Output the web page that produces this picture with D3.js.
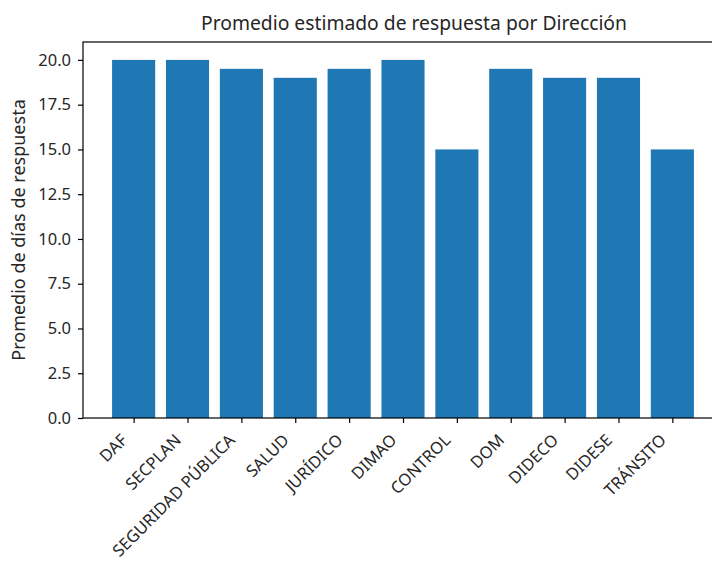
<!DOCTYPE html>
<html><head><meta charset="utf-8">
<script src="https://cdn.jsdelivr.net/npm/d3@7"></script>
<style>body{margin:0;background:#fff;overflow:hidden}text{font-family:"Noto Sans",sans-serif;fill:#262626}</style>
</head><body><svg id="c" width="712" height="563"></svg>
<script>
const categories = ["DAF","SECPLAN","SEGURIDAD PÚBLICA","SALUD","JURÍDICO","DIMAO","CONTROL","DOM","DIDECO","DIDESE","TRÁNSITO"];
const values = [20,20,19.5,19,19.5,20,15,19.5,19,19,15];
const yTicks = [0,2.5,5,7.5,10,12.5,15,17.5,20];
const title = "Promedio estimado de respuesta por Dirección";
const yLabel = "Promedio de días de respuesta";

const svg = d3.select("#c");
const L=83, R=723, T=42, B=418;
const n = categories.length;
const x = d3.scaleLinear().domain([-0.94, n-1+0.94]).range([L,R]);
const y = d3.scaleLinear().domain([0,21]).range([B,T]);
const bw = x(0.8)-x(0);

svg.selectAll("rect.bar").data(values).join("rect").attr("class","bar")
  .attr("x",(d,i)=>x(i)-bw/2).attr("width",bw)
  .attr("y",d=>y(d)).attr("height",d=>B-y(d)).attr("fill","#1f77b4");

svg.append("rect").attr("x",L).attr("y",T).attr("width",R-L).attr("height",B-T)
  .attr("fill","none").attr("stroke","#000").attr("stroke-width",1.2);

const yAxis = svg.append("g").attr("transform",`translate(${L},0)`)
  .call(d3.axisLeft(y).tickValues(yTicks).tickFormat(d3.format(".1f")).tickSize(5).tickPadding(7));
yAxis.select(".domain").remove();
yAxis.selectAll("text").style("font-size","16.5px").attr("fill","#262626");
yAxis.selectAll("line").attr("stroke","#000").attr("stroke-width",1.2);

const xAxis = svg.append("g").attr("transform",`translate(0,${B})`)
  .call(d3.axisBottom(x).tickValues(d3.range(n)).tickFormat(i=>categories[i]).tickSize(5));
xAxis.select(".domain").remove();
xAxis.selectAll("line").attr("stroke","#000").attr("stroke-width",1.2);
xAxis.selectAll("text").style("font-size","16.5px").attr("fill","#262626")
  .attr("text-anchor","end").attr("dominant-baseline","hanging")
  .attr("y",0).attr("dy",0)
  .attr("transform","translate(-16,13) rotate(-45)");

svg.append("text").attr("x",414).attr("y",30).attr("text-anchor","middle")
  .style("font-size","19.3px").text(title);
svg.append("text").attr("transform",`translate(25,${(T+B)/2}) rotate(-90)`)
  .attr("text-anchor","middle").style("font-size","18px").text(yLabel);
</script></body></html>
